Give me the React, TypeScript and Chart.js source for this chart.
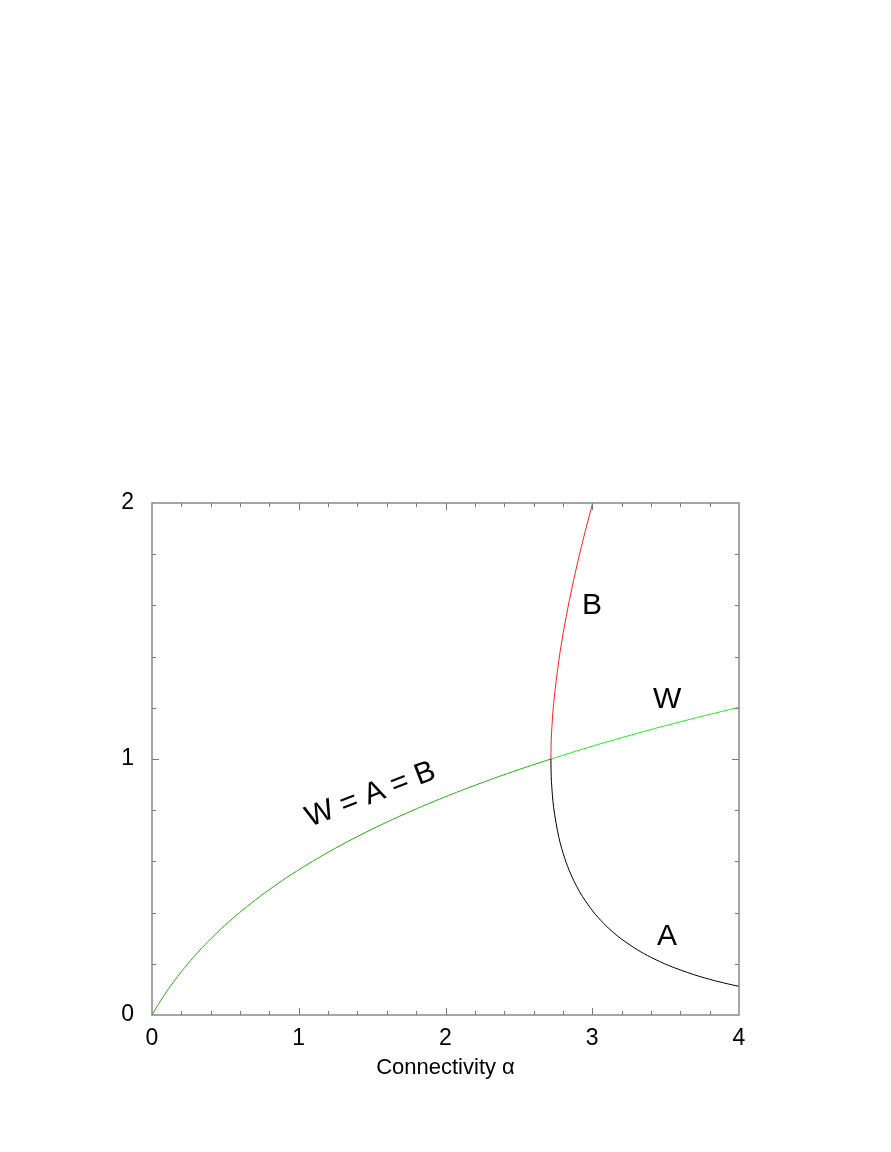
import React, { useEffect, useRef } from "react";
import { Chart, registerables } from "chart.js";

Chart.register(...registerables);

// Symmetric solution W = A = B (alpha < e)
const symAlpha = [0, 0.05256, 0.110517, 0.174275, 0.24428, 0.32101, 0.40496, 0.49667, 0.59673, 0.70574, 0.82436, 0.95329, 1.09327, 1.2451, 1.40963, 1.58775, 1.78043, 1.9887, 2.21364, 2.45642, 2.71828];
const symValue = [0, 0.05, 0.1, 0.15, 0.2, 0.25, 0.3, 0.35, 0.4, 0.45, 0.5, 0.55, 0.6, 0.65, 0.7, 0.75, 0.8, 0.85, 0.9, 0.95, 1.0];

// W beyond alpha = e
const wAlpha = [2.71828, 3.00053, 3.30459, 3.63192, 3.98414, 4.0];
const wValue = [1.0, 1.05, 1.1, 1.15, 1.2, 1.2022];

// Branches for alpha > e
const branchAlpha = [2.71828, 2.71937, 2.72191, 2.73686, 2.77259, 2.81305, 2.85428, 2.89483, 2.93414, 3.00835, 3.0767, 3.13986, 3.1985, 3.3044, 3.39787, 3.5206, 3.692, 3.8344, 3.9563, 4.0013];
const aValue = [1.0, 0.9531, 0.911608, 0.81093, 0.693147, 0.610861, 0.549306, 0.501105, 0.462098, 0.402359, 0.358352, 0.324318, 0.297063, 0.255843, 0.225901, 0.193432, 0.15767, 0.13412, 0.117283, 0.111798];
const bValue = [1.0, 1.04841, 1.093929, 1.2164, 1.386294, 1.527151, 1.647918, 1.753868, 1.848392, 2.011797, 2.150111, 2.270228, 2.376504, 2.558428, 2.710808, 2.901483, 3.153402, 3.352996, 3.51848, 3.577534];

const xMajor = [0, 1, 2, 3, 4];
const xMinor = [0.2, 0.4, 0.6, 0.8, 1.2, 1.4, 1.6, 1.8, 2.2, 2.4, 2.6, 2.8, 3.2, 3.4, 3.6, 3.8];
const yMajor = [0, 1, 2];
const yMinor = [0.2, 0.4, 0.6, 0.8, 1.2, 1.4, 1.6, 1.8];

const labelText = ["B", "W", "A", "W = A = B"];
const labelX = [2.998, 3.51, 3.51, 1.49];
const labelY = [1.6, 1.23, 0.305, 0.86];
const labelRot = [0, 0, 0, -21];

const FONT = "'Liberation Sans', Arial, Helvetica, sans-serif";

const pts = (xs: number[], ys: number[]) => xs.map((x, i) => ({ x, y: ys[i] }));

const frame = {
  id: "frame",
  afterDatasetsDraw(chart: any) {
    const { ctx, chartArea: ca, scales } = chart;
    const sx = scales.x, sy = scales.y;
    ctx.save();
    ctx.strokeStyle = "#777";
    ctx.lineWidth = 1;
    ctx.beginPath();
    const tick = (vals: number[], len: number) => {
      vals.forEach((v) => {
        const px = Math.round(sx.getPixelForValue(v)) + 0.5;
        if (px > ca.left + 1 && px < ca.right - 1) {
          ctx.moveTo(px, ca.bottom); ctx.lineTo(px, ca.bottom - len);
          ctx.moveTo(px, ca.top); ctx.lineTo(px, ca.top + len);
        }
      });
    };
    const ytick = (vals: number[], len: number) => {
      vals.forEach((v) => {
        const py = Math.round(sy.getPixelForValue(v)) + 0.5;
        if (py > ca.top + 1 && py < ca.bottom - 1) {
          ctx.moveTo(ca.left, py); ctx.lineTo(ca.left + len, py);
          ctx.moveTo(ca.right, py); ctx.lineTo(ca.right - len, py);
        }
      });
    };
    tick(xMajor, 7); tick(xMinor, 4);
    ytick(yMajor, 7); ytick(yMinor, 4);
    ctx.stroke();
    ctx.strokeStyle = "#888";
    ctx.lineWidth = 1.5;
    ctx.strokeRect(ca.left, ca.top, ca.right - ca.left, ca.bottom - ca.top);

    ctx.fillStyle = "#000";
    ctx.font = `30px ${FONT}`;
    ctx.textAlign = "center";
    ctx.textBaseline = "middle";
    labelText.forEach((t, i) => {
      const px = sx.getPixelForValue(labelX[i]);
      const py = sy.getPixelForValue(labelY[i]);
      ctx.save();
      ctx.translate(px, py);
      ctx.rotate((labelRot[i] * Math.PI) / 180);
      ctx.fillText(t, 0, 0);
      ctx.restore();
    });
    ctx.restore();
  },
};

export default function App() {
  const ref = useRef<HTMLCanvasElement | null>(null);
  useEffect(() => {
    if (!ref.current) return;
    const line = (data: any[], color: string, tension: number) => ({
      data,
      showLine: true,
      borderColor: color,
      borderWidth: 1,
      pointRadius: 0,
      fill: false,
      tension,
    });
    const chart = new Chart(ref.current, {
      type: "scatter",
      data: {
        datasets: [
          line(pts(branchAlpha, aValue), "#000000", 0.3),
          line(pts(branchAlpha, bValue), "#ff2020", 0.3),
          line(pts(wAlpha, wValue), "#22ee22", 0.4),
          line(pts(symAlpha, symValue), "#2aa818", 0.4),
        ] as any,
      },
      options: {
        animation: false,
        responsive: false,
        devicePixelRatio: 1,
        layout: { padding: { left: 92, top: 503, right: 152, bottom: 71 } },
        plugins: { legend: { display: false }, tooltip: { enabled: false } },
        scales: {
          x: {
            type: "linear",
            min: 0,
            max: 4,
            grid: { display: false, drawTicks: false },
            border: { display: false },
            ticks: { stepSize: 1, color: "#000", font: { family: FONT, size: 23 }, padding: 10 },
            title: { display: true, text: "Connectivity α", color: "#000", font: { family: FONT, size: 22 }, padding: { top: 4, bottom: 0 } },
            afterFit: (s: any) => { s.height = 66; },
          },
          y: {
            type: "linear",
            min: 0,
            max: 2,
            grid: { display: false, drawTicks: false },
            border: { display: false },
            ticks: { stepSize: 1, color: "#000", font: { family: FONT, size: 23 }, padding: 18 },
            afterFit: (s: any) => { s.width = 60; },
          },
        },
      },
      plugins: [frame],
    });
    return () => chart.destroy();
  }, []);
  return (
    <div style={{ position: "fixed", left: 0, top: 0, width: 891, height: 1152, background: "#fff" }}>
      <canvas ref={ref} width={891} height={1152} style={{ width: 891, height: 1152 }} />
    </div>
  );
}
